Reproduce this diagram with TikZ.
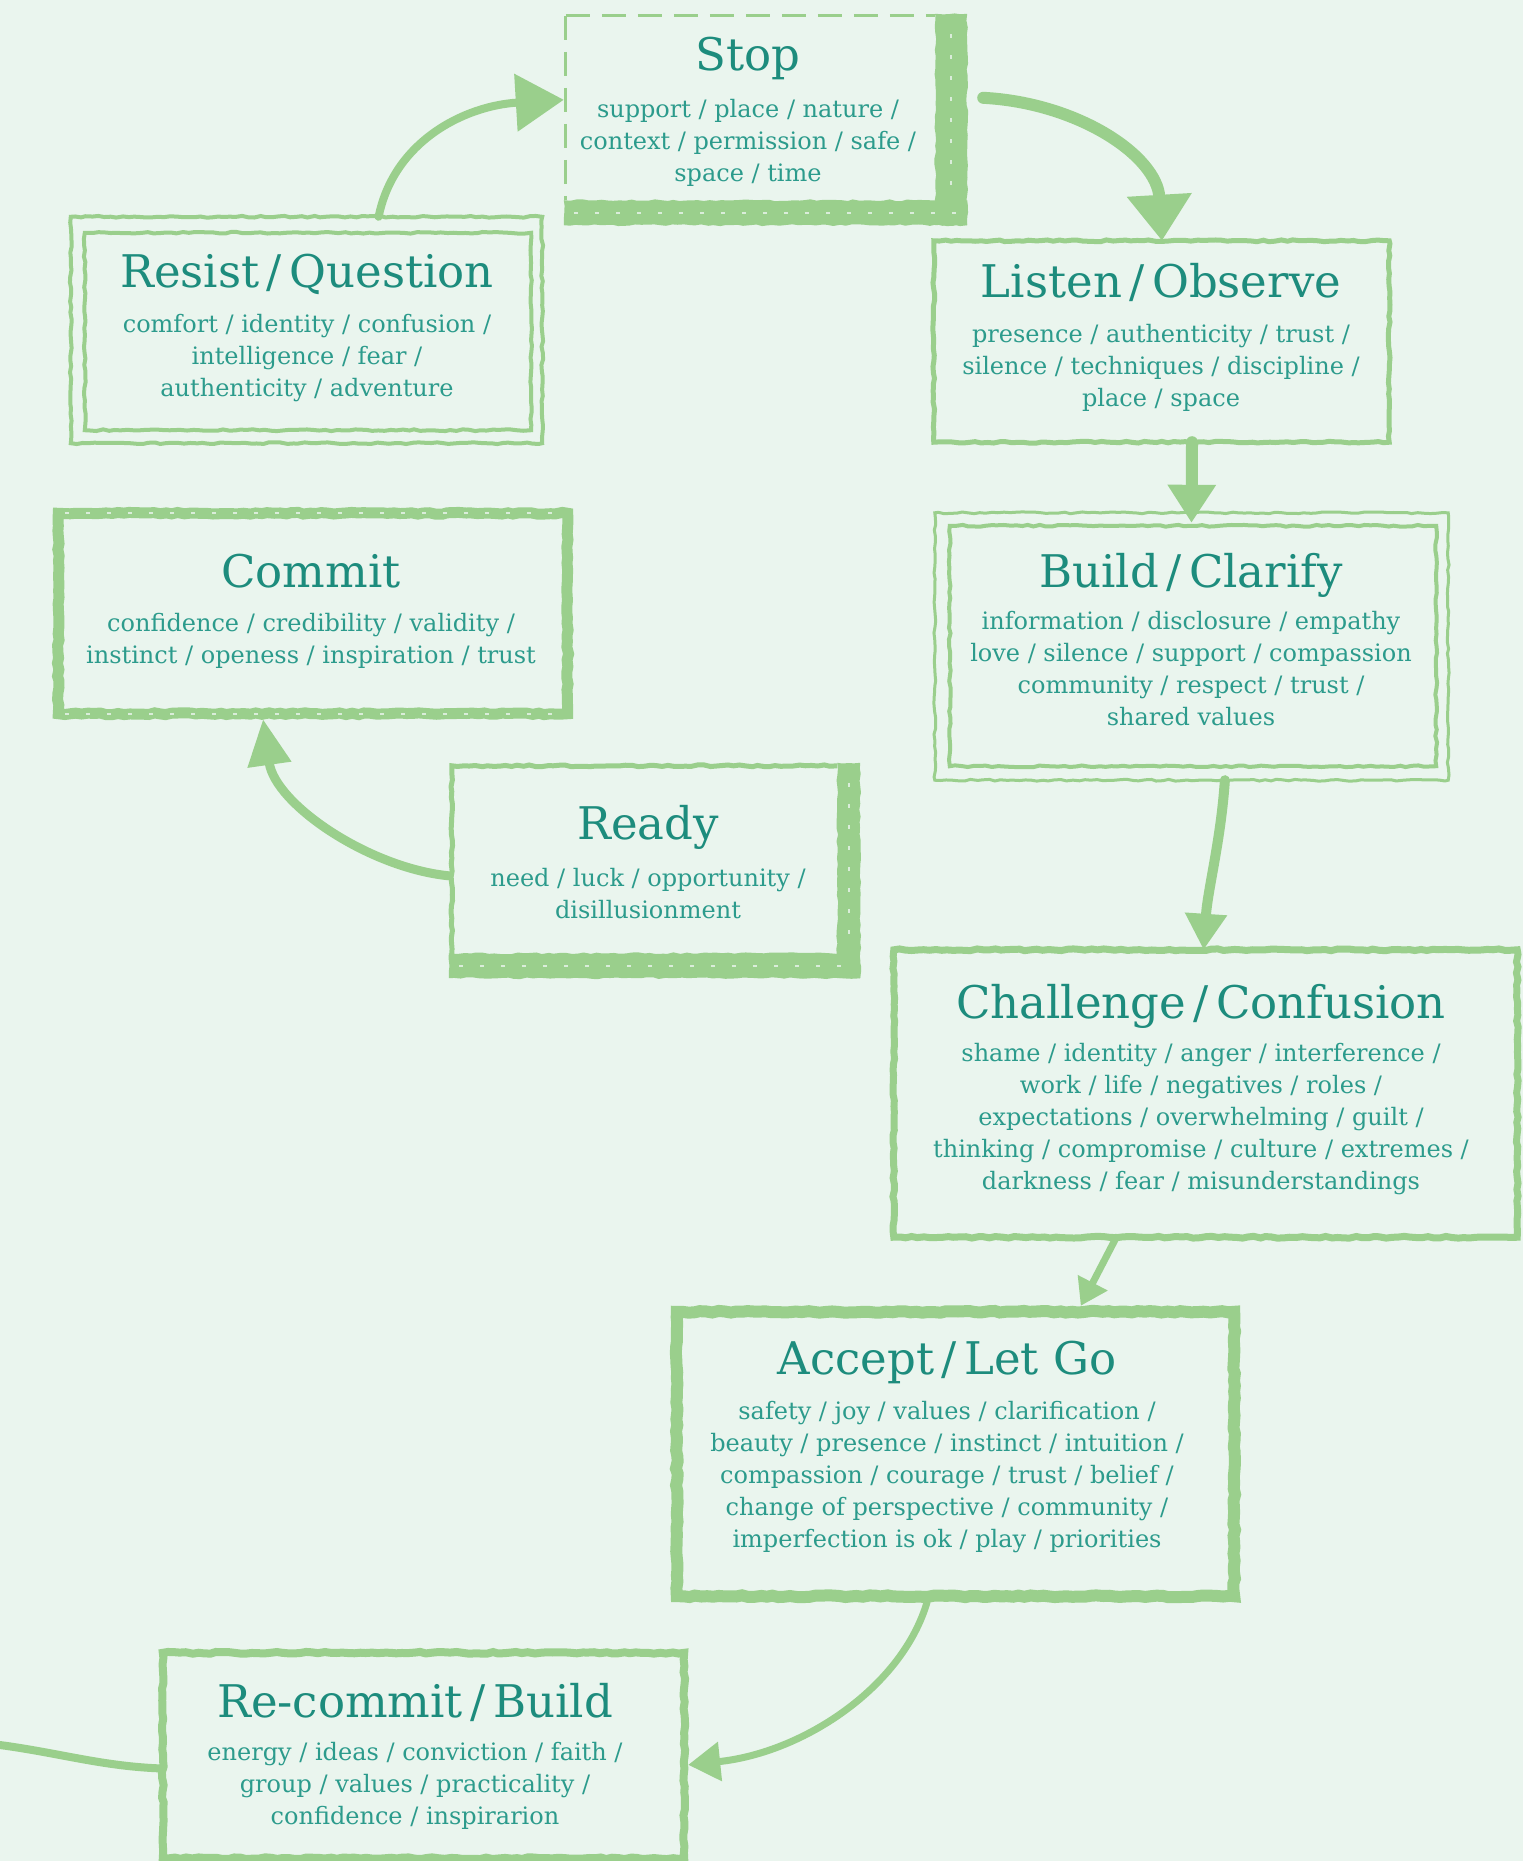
\documentclass[tikz,border=0pt]{standalone}
\usepackage{fontspec}
\setmainfont{DejaVu Serif}
\usetikzlibrary{arrows.meta,calc,decorations.pathmorphing}
\definecolor{bg}{HTML}{EAF5EE}
\definecolor{grn}{HTML}{9ACF8C}
\definecolor{ttl}{HTML}{1D8C7D}
\definecolor{bdy}{HTML}{2C9B8C}
\pgfmathsetseed{7}
\begin{document}
\begin{tikzpicture}[x=1pt,y=-1pt,
  box/.style={rectangle, inner sep=0pt, draw=none},
  rough/.style={decorate, decoration={random steps, segment length=6pt, amplitude=0.9pt}},
  edge/.style={draw=grn, rough, line width=#1},
  band/.style={fill=grn, rough},
  speck/.style={draw=bg, line width=2, dash pattern=on 4pt off 17pt, opacity=0.8},
  ttlt/.style={anchor=base, text=ttl, font=\fontsize{45}{50}\selectfont},
  bodyt/.style={anchor=base, text=bdy, align=center, font=\fontsize{24}{32}\selectfont},
  conn/.style={draw=grn, line width=#1, line cap=round},
]
\useasboundingbox (0,0) rectangle (1523,1861);
\fill[bg] (0,0) rectangle (1523,1861);

% ---------- boxes ----------
\node[box, minimum width=403, minimum height=211] (stop) at (765.5,119.5) {};
\node[box, minimum width=471, minimum height=226] (resist) at (306.5,330) {};
\node[box, minimum width=455, minimum height=201] (listen) at (1161.5,341.5) {};
\node[box, minimum width=520, minimum height=211] (commit) at (313,613.5) {};
\node[box, minimum width=513, minimum height=267] (build) at (1191.5,646.5) {};
\node[box, minimum width=411, minimum height=215] (ready) at (654.5,870.5) {};
\node[box, minimum width=623, minimum height=287] (challenge) at (1205.5,1093.5) {};
\node[box, minimum width=569, minimum height=296] (accept) at (955.5,1454) {};
\node[box, minimum width=521, minimum height=205] (recommit) at (423.5,1755.5) {};

% Stop frame
\draw[grn, line width=3, dash pattern=on 24pt off 12pt] ($(stop.north west)+(2,2)$) -- ($(stop.north east)+(-32,2)$);
\draw[grn, line width=3, dash pattern=on 24pt off 12pt] ($(stop.north west)+(2,2)$) -- ($(stop.south west)+(2,-25)$);
\fill[band] ($(stop.north east)+(-32,0)$) rectangle (stop.south east);
\fill[band] ($(stop.south west)+(0,-25)$) rectangle (stop.south east);
\draw[speck] ($(stop.south west)+(10,-12)$) -- ($(stop.south east)+(-10,-12)$);
\draw[speck] ($(stop.north east)+(-16,20)$) -- ($(stop.south east)+(-16,-30)$);

% Resist frame (double)
\draw[edge=4] (resist.north west) rectangle (resist.south east);
\draw[edge=4] ($(resist.north west)+(14,16)$) rectangle ($(resist.south east)+(-11,-13)$);

% Listen frame
\draw[edge=5] (listen.north west) rectangle (listen.south east);

% Commit frame
\draw[edge=11] ($(commit.north west)+(5.5,5.5)$) rectangle ($(commit.south east)+(-5.5,-5.5)$);
\draw[speck] ($(commit.north west)+(12,5)$) -- ($(commit.north east)+(-12,5)$);
\draw[speck] ($(commit.south west)+(12,-5)$) -- ($(commit.south east)+(-12,-5)$);

% Build frame (double)
\draw[edge=3] (build.north west) rectangle (build.south east);
\draw[edge=4] ($(build.north west)+(15,13)$) rectangle ($(build.south east)+(-12,-14)$);

% Ready frame
\draw[edge=5] ($(ready.south west)+(3,-24)$) -- ($(ready.north west)+(3,3)$) -- ($(ready.north east)+(-23,3)$);
\fill[band] ($(ready.north east)+(-23,0)$) rectangle (ready.south east);
\fill[band] ($(ready.south west)+(0,-25)$) rectangle (ready.south east);
\draw[speck] ($(ready.south west)+(10,-12)$) -- ($(ready.south east)+(-10,-12)$);
\draw[speck] ($(ready.north east)+(-11,20)$) -- ($(ready.south east)+(-11,-30)$);

% Challenge frame
\draw[edge=7] (challenge.north west) rectangle (challenge.south east);

% Accept frame
\draw[edge=12] ($(accept.north west)+(6,6)$) rectangle ($(accept.south east)+(-6,-6)$);

% Re-commit frame
\draw[edge=8] (recommit.north west) rectangle (recommit.south east);

% ---------- texts (body nodes anchored at the baseline of their last line) ----------
\node[ttlt] (stopT) at (748,70) {Stop};
\node[bodyt] (stopB) at (748,181) {support / place / nature /\\context / permission / safe /\\space / time};

\node[ttlt] (resistT) at (307,287) {Resist\thinspace/\thinspace Question};
\node[bodyt] (resistB) at (307,396) {comfort / identity / confusion /\\intelligence / fear /\\authenticity / adventure};

\node[ttlt] (listenT) at (1161,297) {Listen\thinspace/\thinspace Observe};
\node[bodyt] (listenB) at (1161,406) {presence / authenticity / trust /\\silence / techniques / discipline /\\place / space};

\node[ttlt] (commitT) at (311,587) {Commit};
\node[bodyt] (commitB) at (311,663) {confidence / credibility / validity /\\instinct / openess / inspiration / trust};

\node[ttlt] (buildT) at (1191,587) {Build\thinspace/\thinspace Clarify};
\node[bodyt] (buildB) at (1191,725) {information / disclosure / empathy\\love / silence / support / compassion\\community / respect / trust /\\shared values};

\node[ttlt] (readyT) at (648,839) {Ready};
\node[bodyt] (readyB) at (648,918) {need / luck / opportunity /\\disillusionment};

\node[ttlt] (challengeT) at (1201,1018) {Challenge\thinspace/\thinspace Confusion};
\node[bodyt] (challengeB) at (1201,1189) {shame / identity / anger / interference /\\work / life / negatives / roles /\\expectations / overwhelming / guilt /\\thinking / compromise / culture / extremes /\\darkness / fear / misunderstandings};

\node[ttlt] (acceptT) at (947,1374) {Accept\thinspace/\thinspace Let Go};
\node[bodyt] (acceptB) at (947,1547) {safety / joy / values / clarification /\\beauty / presence / instinct / intuition /\\compassion / courage / trust / belief /\\change of perspective / community /\\imperfection is ok / play / priorities};

\node[ttlt] (recommitT) at (415,1717) {Re-commit\thinspace/\thinspace Build};
\node[bodyt] (recommitB) at (415,1824) {energy / ideas / conviction / faith /\\group / values / practicality /\\confidence / inspirarion};

% ---------- connectors ----------
\draw[conn=8, -{Triangle[length=48pt,width=56pt]}]
  ($(resist.north west)!0.653!(resist.north east)$) .. controls +(15,-75) and +(-100,6) .. ($(stop.north west)+(0,86)$);
\draw[conn=12, -{Triangle[length=46pt,width=62pt]}]
  ($(stop.north east)+(16,84)$) .. controls +(95,5) and +(-5,-85) .. ($(listen.north west)!0.501!(listen.north east)$);
\draw[conn=12, -{Triangle[length=38pt,width=46pt]}]
  ($(listen.south west)!0.567!(listen.south east)$) -- ($(build.north)+(0,10)$);
\draw[conn=10, -{Triangle[length=36pt,width=40pt]}]
  ($(build.south west)!0.565!(build.south east)$) .. controls +(-4,60) and +(4,-60) .. ($(challenge.north west)!0.497!(challenge.north east)$);
\draw[conn=7, -{Triangle[length=26pt,width=32pt]}]
  ($(challenge.south west)!0.357!(challenge.south east)$) -- ($(accept.north west)!0.72!(accept.north east)$);
\draw[conn=7, -{Triangle[length=32pt,width=38pt]}]
  ($(accept.south west)!0.45!(accept.south east)$) .. controls +(-25,85) and +(115,-12) .. ($(recommit.north east)+(4,112)$);
\draw[conn=9, -{Triangle[length=46pt,width=42pt]}]
  ($(ready.north west)+(0,113)$) .. controls +(-80,-8) and +(12,85) .. ($(commit.south west)!0.404!(commit.south east)$);
\coordinate (lft) at (0,1745);
\draw[conn=8] (lft) .. controls +(60,8) and +(-60,-2) .. ($(recommit.west)+(0,13)$);
\end{tikzpicture}
\end{document}
